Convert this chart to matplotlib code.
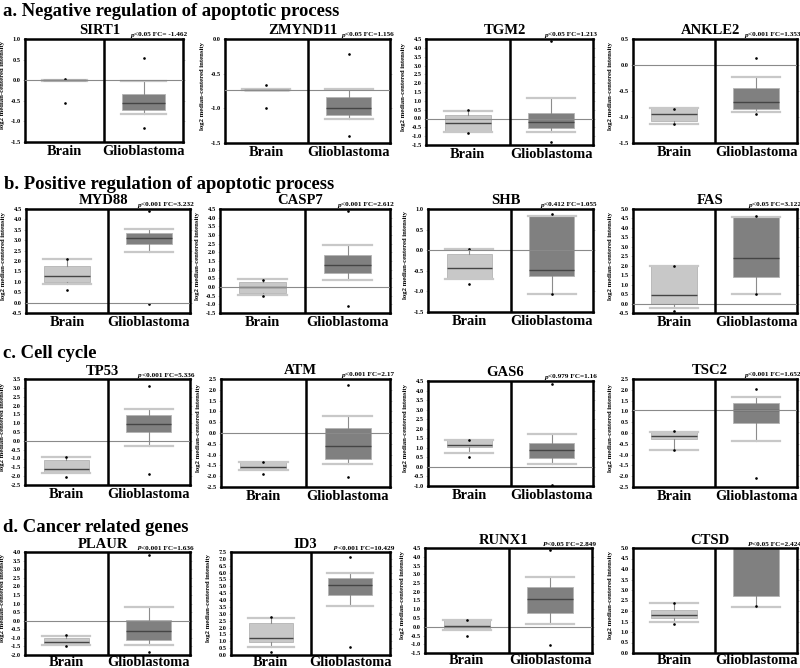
import numpy as np
import matplotlib
matplotlib.use('Agg')
import matplotlib.pyplot as plt
from matplotlib.transforms import offset_copy

plt.rcParams['font.family'] = ['Liberation Serif', 'DejaVu Serif']
plt.rcParams['font.weight'] = 'bold'

# ---- data ----
sections = ['a. Negative regulation of apoptotic process',
            'b. Positive regulation of apoptotic process',
            'c. Cell cycle',
            'd. Cancer related genes']
groups = ['Brain', 'Glioblastoma']

genes = ['SIRT1', 'ZMYND11', 'TGM2', 'ANKLE2',
         'MYD88', 'CASP7', 'SHB', 'FAS',
         'TP53', 'ATM', 'GAS6', 'TSC2',
         'PLAUR', 'ID3', 'RUNX1', 'CTSD']
p_letter = ['p'] * 14 + ['P', 'P']
p_rest = ['<0.05 FC= -1.462', '<0.05 FC=1.156', '<0.05 FC=1.213', '<0.001 FC=1.353',
          '<0.001 FC=3.232', '<0.001 FC=2.612', '<0.412 FC=1.055', '<0.05 FC=3.122',
          '<0.001 FC=5.336', '<0.001 FC=2.17', '<0.979 FC=1.16', '<0.001 FC=1.652',
          '<0.001 FC=1.636', '<0.001 FC=10.429', '<0.05 FC=2.849', '<0.05 FC=2.424']

y_min = [-1.5, -1.5, -1.5, -1.5, -0.5, -1.5, -1.5, -0.5,
         -2.5, -2.5, -1.0, -2.5, -2.0, 0.0, -1.5, 0.0]
y_max = [1.0, 0.0, 4.5, 0.5, 4.5, 4.5, 1.0, 5.0,
         3.5, 2.5, 4.5, 2.5, 4.0, 7.5, 4.5, 5.0]
ref_line = [0.0, -0.73, 0.0, 0.0, 0.0, 0.0, 0.0, 0.0,
            0.0, -0.02, 0.0, 1.05, 0.0, 0.0, 0.0, 0.0]

brain_q1 = [-0.01, -0.735, -0.74, -1.08, 1.0, -0.37, -0.71, 0.0,
            -1.83, -1.71, 1.04, -0.27, -1.38, 0.95, -0.19, 1.68]
brain_med = [0.0, -0.73, -0.24, -0.95, 1.3, -0.02, -0.42, 0.43,
             -1.62, -1.57, 1.17, -0.16, -1.22, 1.25, 0.04, 1.8]
brain_q3 = [0.01, -0.725, 0.18, -0.83, 1.78, 0.28, -0.1, 1.97,
            -1.06, -1.35, 1.43, 0.05, -0.99, 2.34, 0.38, 2.07]
brain_lo = [-0.01, -0.735, -0.78, -1.13, 0.88, -0.47, -0.71, -0.23,
            -1.83, -1.73, 0.74, -0.78, -1.42, 0.6, -0.19, 1.47]
brain_hi = [0.01, -0.725, 0.44, -0.82, 2.08, 0.44, 0.02, 1.99,
            -0.9, -1.32, 1.43, 0.05, -0.87, 2.7, 0.38, 2.36]
brain_min = [-0.55, -1.0, -0.8, -1.13, 0.6, -0.52, -0.81, -0.41,
             -2.06, -1.9, 0.51, -0.8, -1.45, 0.2, -0.54, 1.4]
brain_max = [0.02, -0.67, 0.46, -0.84, 2.1, 0.4, 0.02, 2.0,
             -0.92, -1.33, 1.4, 0.08, -0.84, 2.75, 0.4, 2.4]

glio_q1 = [-0.72, -1.09, -0.55, -0.84, 2.8, 0.82, -0.63, 1.41,
           0.49, -1.19, 0.48, 0.48, -1.13, 4.39, 0.76, 2.71]
glio_med = [-0.56, -1.0, -0.17, -0.72, 3.1, 1.27, -0.47, 2.41,
            0.97, -0.58, 0.87, 1.07, -0.6, 5.12, 1.57, 5.2]
glio_q3 = [-0.34, -0.84, 0.31, -0.45, 3.33, 1.85, 0.84, 4.6,
           1.45, 0.21, 1.26, 1.39, 0.05, 5.63, 2.26, 5.5]
glio_lo = [-0.82, -1.15, -0.78, -0.9, 2.45, 0.4, -1.06, 0.52,
           -0.32, -1.42, 0.13, -0.37, -1.42, 3.6, 0.13, 2.2]
glio_hi = [-0.03, -0.725, 1.15, -0.24, 3.55, 2.42, 0.84, 4.6,
           1.8, 0.78, 1.7, 1.67, 0.77, 5.97, 2.87, 5.9]
glio_min = [-1.15, -1.4, -1.35, -0.95, -0.05, -1.1, -1.06, 0.52,
            -1.87, -2.03, -0.96, -2.07, -1.85, 0.56, -1.02, 2.22]
glio_max = [0.53, -0.21, 4.4, 0.13, 4.4, 4.4, 0.87, 4.64,
            3.11, 2.23, 4.36, 2.02, 3.85, 7.13, 4.4, 6.2]

# ---- layout (pixels: left, top, right, bottom) ----
W, H = 800, 668
axes_px = [(25, 39, 183, 142), (225, 39, 390, 143), (426, 39, 593, 145), (633, 39, 797, 143),
           (26, 209, 190, 313), (220, 209, 390, 313), (428, 209, 593, 312), (633, 209, 797, 313),
           (25, 379, 190, 485), (221, 379, 390, 487), (428, 381, 593, 486), (633, 379, 797, 487),
           (25, 552, 190, 655), (231, 552, 390, 655), (425, 548, 592, 653), (633, 548, 797, 653)]
section_px = [(3, 16), (4, 189), (3, 358), (3, 532)]

brain_color = '#c8c8c8'
glio_color = '#808080'

fig = plt.figure(figsize=(W / 100, H / 100), dpi=100)

for text, (x, y) in zip(sections, section_px):
    fig.text(x / W, 1 - y / H, text, fontsize=13.4, fontweight='bold', va='baseline', ha='left')

for i, gene in enumerate(genes):
    l, t, r, b = axes_px[i]
    ax = fig.add_axes([l / W, 1 - b / H, (r - l) / W, (b - t) / H])

    stats = [dict(q1=brain_q1[i], med=brain_med[i], q3=brain_q3[i],
                  whislo=brain_lo[i], whishi=brain_hi[i],
                  fliers=[brain_min[i], brain_max[i]]),
             dict(q1=glio_q1[i], med=glio_med[i], q3=glio_q3[i],
                  whislo=glio_lo[i], whishi=glio_hi[i],
                  fliers=[glio_min[i], glio_max[i]])]
    res = ax.bxp(stats, positions=[1, 2], widths=0.55, capwidths=0.58,
                 patch_artist=True, showfliers=True,
                 boxprops=dict(edgecolor='#b4b4b4', linewidth=0.6),
                 whiskerprops=dict(color='#8c8c8c', linewidth=0.8),
                 capprops=dict(color='#c8c8c8', linewidth=1.6),
                 medianprops=dict(color='#454545', linewidth=1.0),
                 flierprops=dict(marker='o', markersize=0.9, markerfacecolor='black',
                                 markeredgecolor='black', linestyle='none'))
    res['boxes'][0].set_facecolor(brain_color)
    res['boxes'][1].set_facecolor(glio_color)

    ax.axhline(ref_line[i], color='#8a8a8a', linewidth=0.8, zorder=3)
    ax.axvline(1.5, color='black', linewidth=1.8, zorder=4)

    ax.set_xlim(0.5, 2.5)
    ax.set_ylim(y_min[i], y_max[i])
    ax.set_xticks([])
    ticks = np.arange(y_min[i], y_max[i] + 0.01, 0.5)
    ax.set_yticks(ticks)
    ax.set_yticklabels(['%.1f' % v for v in ticks])
    ax.tick_params(axis='y', labelsize=4.6, length=1.5, width=0.5, pad=1.5,
                   right=True, color='#b0b0b0', labelcolor='black')
    for s in ax.spines.values():
        s.set_linewidth(1.8)

    ax.set_ylabel('log2 median-centered intensity', fontsize=4.8, fontweight='bold')
    ax.yaxis.set_label_coords(-20 / (r - l), 0.55)

    off = -11 if i >= 12 else -13
    for k, g in enumerate(groups):
        trans = offset_copy(ax.get_xaxis_transform(), fig=fig, x=0, y=off, units='dots')
        ax.text(k + 1, 0, g, transform=trans, ha='center', va='baseline',
                fontsize=10.4, fontweight='bold')

    ax.text(0.47, 1.0, gene, transform=offset_copy(ax.transAxes, fig=fig, y=1.5, units='dots'),
            ha='center', va='bottom', fontsize=10.5, fontweight='bold')
    rest = ax.text(1.0, 1.0, p_rest[i],
                   transform=offset_copy(ax.transAxes, fig=fig, x=4, y=1.5, units='dots'),
                   ha='right', va='bottom', fontsize=5.2, fontweight='bold')
    ax.annotate(p_letter[i], xy=(0, 0), xycoords=rest, ha='right', va='bottom',
                fontsize=5.2, fontweight='bold', style='italic')

fig.savefig('out.png', dpi=100)
